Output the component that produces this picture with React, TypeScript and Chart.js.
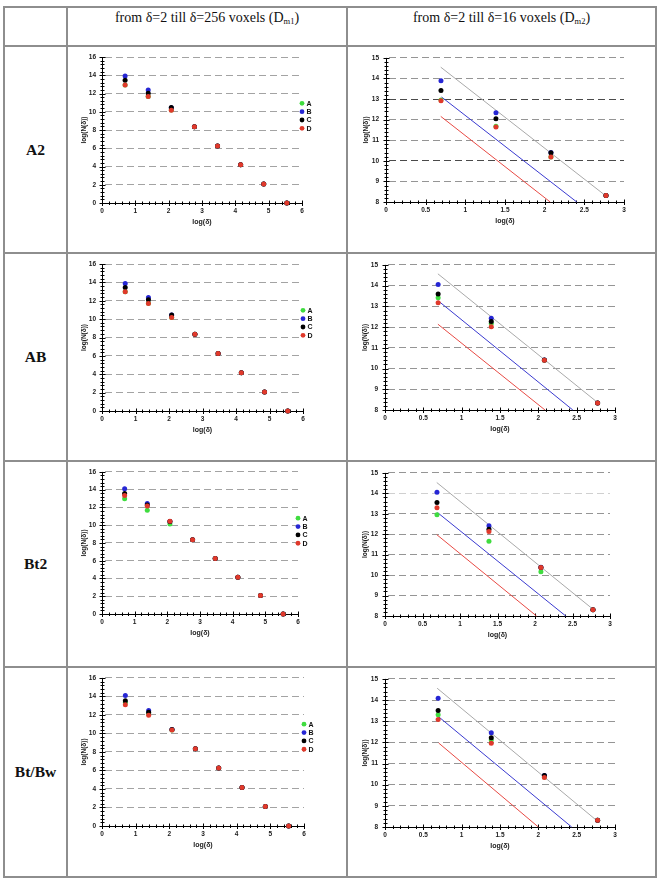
import React, { useEffect, useRef } from 'react';
import { Chart, registerables } from 'chart.js';

Chart.register(...registerables);

const SANS = '"Liberation Sans", Arial, Helvetica, sans-serif';
const SERIF = '"Liberation Serif", "Times New Roman", serif';

// ---------- data ----------
// log(δ) for δ = 2, 4, 8, ..., 256 voxels
const LOG_DELTA_M1 = [0.693, 1.386, 2.079, 2.773, 3.466, 4.159, 4.852, 5.545];
// log(δ) for δ = 2 ... 16 voxels
const LOG_DELTA_M2 = [0.693, 1.386, 2.079, 2.773];

const SERIES_NAMES = ['A', 'B', 'C', 'D'];
const SERIES_COLORS = ['#3fdc3f', '#2626d4', '#000000', '#e0392b'];
const FIT_COLORS = ['#a9a9a9', '#3a3ad0', '#e84a44'];

// Dm1 panels (δ = 2 .. 256)
const A2_M1_A = [12.93, 11.66, 10.18, 8.35, 6.26, 4.18, 2.09, 0.0];
const A2_M1_B = [13.92, 12.39, 10.45, 8.35, 6.26, 4.18, 2.09, 0.0];
const A2_M1_C = [13.45, 12.02, 10.47, 8.35, 6.26, 4.18, 2.09, 0.0];
const A2_M1_D = [12.93, 11.66, 10.17, 8.35, 6.26, 4.18, 2.09, 0.0];

const AB_M1_A = [12.98, 11.72, 10.18, 8.36, 6.25, 4.17, 2.07, 0.0];
const AB_M1_B = [13.89, 12.36, 10.44, 8.36, 6.25, 4.17, 2.07, 0.0];
const AB_M1_C = [13.45, 12.10, 10.44, 8.36, 6.25, 4.17, 2.07, 0.0];
const AB_M1_D = [12.98, 11.70, 10.18, 8.36, 6.25, 4.17, 2.07, 0.0];

const BT2_M1_A = [12.98, 11.67, 10.14, 8.35, 6.26, 4.14, 2.08, 0.0];
const BT2_M1_B = [14.10, 12.45, 10.42, 8.35, 6.26, 4.14, 2.08, 0.0];
const BT2_M1_C = [13.57, 12.27, 10.42, 8.35, 6.26, 4.14, 2.08, 0.0];
const BT2_M1_D = [13.35, 12.16, 10.44, 8.35, 6.26, 4.14, 2.08, 0.0];

const BTBW_M1_A = [13.35, 12.13, 10.36, 8.34, 6.26, 4.15, 2.11, 0.0];
const BTBW_M1_B = [14.10, 12.49, 10.42, 8.34, 6.26, 4.15, 2.11, 0.0];
const BTBW_M1_C = [13.53, 12.28, 10.42, 8.34, 6.26, 4.15, 2.11, 0.0];
const BTBW_M1_D = [13.10, 11.96, 10.38, 8.34, 6.26, 4.15, 2.11, 0.0];

// Dm2 panels (δ = 2 .. 16)
const A2_M2_A = [12.95, 11.68, 10.18, 8.31];
const A2_M2_B = [13.89, 12.34, 10.40, 8.31];
const A2_M2_C = [13.42, 12.05, 10.39, 8.31];
const A2_M2_D = [12.92, 11.64, 10.18, 8.31];

const AB_M2_A = [13.42, 12.17, 10.40, 8.34];
const AB_M2_B = [14.05, 12.43, 10.41, 8.34];
const AB_M2_C = [13.60, 12.27, 10.41, 8.34];
const AB_M2_D = [13.17, 12.02, 10.40, 8.34];

const BT2_M2_A = [12.95, 11.66, 10.16, 8.31];
const BT2_M2_B = [14.05, 12.42, 10.38, 8.31];
const BT2_M2_C = [13.55, 12.24, 10.37, 8.31];
const BT2_M2_D = [13.29, 12.13, 10.37, 8.31];

const BTBW_M2_A = [13.31, 12.11, 10.36, 8.32];
const BTBW_M2_B = [14.09, 12.45, 10.43, 8.32];
const BTBW_M2_C = [13.51, 12.22, 10.43, 8.32];
const BTBW_M2_D = [13.08, 11.96, 10.34, 8.32];

// reference lines (gray, blue, red): [[x1, y1], [x2, y2]]
const A2_FIT_GRAY = [[0.69, 14.55], [2.77, 8.30]];
const A2_FIT_BLUE = [[0.70, 13.10], [2.405, 8.0]];
const A2_FIT_RED = [[0.69, 12.16], [2.07, 8.0]];

const AB_FIT_GRAY = [[0.69, 14.57], [2.77, 8.37]];
const AB_FIT_BLUE = [[0.70, 13.25], [2.45, 8.0]];
const AB_FIT_RED = [[0.69, 12.14], [2.087, 8.0]];

const BT2_FIT_GRAY = [[0.69, 14.53], [2.78, 8.31]];
const BT2_FIT_BLUE = [[0.70, 13.06], [2.41, 8.0]];
const BT2_FIT_RED = [[0.69, 11.98], [2.02, 8.0]];

const BTBW_FIT_GRAY = [[0.68, 14.56], [2.77, 8.28]];
const BTBW_FIT_BLUE = [[0.70, 13.21], [2.435, 8.0]];
const BTBW_FIT_RED = [[0.70, 11.97], [2.0, 8.0]];

// axis ranges: [min, max, major step, minor step]
const M1_X_RANGE = [0, 6, 1, 0.2];
const M1_Y_RANGE = [0, 16, 2, 0.4];
const M2_X_RANGE = [0, 3, 0.5, 0.1];
const M2_Y_RANGE = [8, 15, 1, 0.2];

const ROW_LABELS = ['A2', 'AB', 'Bt2', 'Bt/Bw'];

// ---------- layout ----------
const ROW_BOXES = [
  [47, 205],
  [254, 206],
  [462, 204],
  [668, 208],
];
const LEFT_BOX_X = [68, 278];
const RIGHT_BOX_X = [348, 307];

type Panel = {
  kind: 'm1' | 'm2';
  series: number[][];
  lines?: number[][][];
  row: number;
  plot: number[]; // l, t, r, b
  darkGrid?: number[];
  lightGrid?: number[];
};

const PANELS: Panel[] = [
  { kind: 'm1', row: 0, series: [A2_M1_A, A2_M1_B, A2_M1_C, A2_M1_D], plot: [102, 57, 302, 203] },
  { kind: 'm2', row: 0, series: [A2_M2_A, A2_M2_B, A2_M2_C, A2_M2_D], lines: [A2_FIT_GRAY, A2_FIT_BLUE, A2_FIT_RED], plot: [386, 57, 624, 202], darkGrid: [13, 10] },
  { kind: 'm1', row: 1, series: [AB_M1_A, AB_M1_B, AB_M1_C, AB_M1_D], plot: [102, 264, 303, 411] },
  { kind: 'm2', row: 1, series: [AB_M2_A, AB_M2_B, AB_M2_C, AB_M2_D], lines: [AB_FIT_GRAY, AB_FIT_BLUE, AB_FIT_RED], plot: [385, 264, 615, 410] },
  { kind: 'm1', row: 2, series: [BT2_M1_A, BT2_M1_B, BT2_M1_C, BT2_M1_D], plot: [102, 471, 298, 614] },
  { kind: 'm2', row: 2, series: [BT2_M2_A, BT2_M2_B, BT2_M2_C, BT2_M2_D], lines: [BT2_FIT_GRAY, BT2_FIT_BLUE, BT2_FIT_RED], plot: [385, 471, 610, 616], lightGrid: [14] },
  { kind: 'm1', row: 3, series: [BTBW_M1_A, BTBW_M1_B, BTBW_M1_C, BTBW_M1_D], plot: [102, 677, 304, 826] },
  { kind: 'm2', row: 3, series: [BTBW_M2_A, BTBW_M2_B, BTBW_M2_C, BTBW_M2_D], lines: [BTBW_FIT_GRAY, BTBW_FIT_BLUE, BTBW_FIT_RED], plot: [385, 677, 615, 827] },
];

function panelBox(p: Panel) {
  const [by, bh] = ROW_BOXES[p.row];
  const [bx, bw] = p.kind === 'm1' ? LEFT_BOX_X : RIGHT_BOX_X;
  return [bx, by, bw, bh];
}

function buildConfig(p: Panel): any {
  const isM1 = p.kind === 'm1';
  const xr = isM1 ? M1_X_RANGE : M2_X_RANGE;
  const yr = isM1 ? M1_Y_RANGE : M2_Y_RANGE;
  const xs = isM1 ? LOG_DELTA_M1 : LOG_DELTA_M2;
  const W = isM1 ? 22 : 24;
  const H = 23;
  const [bx, by, bw, bh] = panelBox(p);
  const [pl, pt, pr, pb] = p.plot;
  const padding = { left: pl - bx - W, top: pt - by, right: bx + bw - pr, bottom: by + bh - pb - H };

  const datasets: any[] = [];
  (p.lines || []).forEach((ln, i) => {
    datasets.push({
      label: 'fit' + i,
      data: ln.map(([x, y]) => ({ x, y })),
      showLine: true,
      borderColor: FIT_COLORS[i],
      backgroundColor: FIT_COLORS[i],
      borderWidth: 1,
      pointRadius: 0,
      pointHoverRadius: 0,
      order: 10,
      clip: false,
    });
  });
  p.series.forEach((vals, i) => {
    datasets.push({
      label: SERIES_NAMES[i],
      data: vals.map((y, j) => ({ x: xs[j], y })),
      backgroundColor: SERIES_COLORS[i],
      borderColor: SERIES_COLORS[i],
      borderWidth: 0,
      pointRadius: 2.5,
      pointHoverRadius: 2.5,
      order: 4 - i,
      clip: false,
      inLegend: true,
    });
  });

  const tickFont = { family: SANS, size: 6.5, weight: 'bold' as const };

  const axesPlugin = {
    id: 'minorAxes',
    beforeDatasetsDraw(chart: any) {
      const { ctx, chartArea: a, scales } = chart;
      const sx = scales.x, sy = scales.y;
      ctx.save();
      ctx.strokeStyle = '#000';
      ctx.lineWidth = 1;
      const ay = Math.floor(a.bottom) + 0.5;
      const ax = Math.floor(a.left) + 0.5;
      ctx.beginPath();
      ctx.moveTo(a.left, ay);
      ctx.lineTo(a.right + 0.5, ay);
      ctx.moveTo(ax, a.top);
      ctx.lineTo(ax, a.bottom + 0.5);
      const nx = Math.round((xr[1] - xr[0]) / xr[3]);
      const majEvery = Math.round(xr[2] / xr[3]);
      for (let k = 0; k <= nx; k++) {
        const v = xr[0] + k * xr[3];
        const px = Math.round(sx.getPixelForValue(v)) + 0.5;
        const major = k % majEvery === 0;
        ctx.moveTo(px, ay - (major ? 3 : 2));
        ctx.lineTo(px, ay + (major ? 2.5 : 1.5));
      }
      const ny = Math.round((yr[1] - yr[0]) / yr[3]);
      const majEveryY = Math.round(yr[2] / yr[3]);
      for (let k = 0; k <= ny; k++) {
        const v = yr[0] + k * yr[3];
        const py = Math.round(sy.getPixelForValue(v)) + 0.5;
        const major = k % majEveryY === 0;
        ctx.moveTo(ax - (major ? 3 : 2), py);
        ctx.lineTo(ax + (major ? 3 : 2), py);
      }
      ctx.stroke();
      ctx.restore();
    },
  };

  const legendPlugin = {
    id: 'sideLegend',
    afterDatasetsDraw(chart: any) {
      if (!isM1) return;
      const { ctx, chartArea: a } = chart;
      const items = chart.data.datasets.filter((d: any) => d.inLegend);
      ctx.save();
      items.forEach((d: any, i: number) => {
        const cy = a.top + 46.3 + i * 8.35;
        const cx = a.right;
        ctx.fillStyle = d.backgroundColor;
        ctx.beginPath();
        ctx.arc(cx, cy, 2.4, 0, Math.PI * 2);
        ctx.fill();
        ctx.fillStyle = '#111';
        ctx.font = `bold 7px ${SANS}`;
        ctx.textAlign = 'left';
        ctx.textBaseline = 'middle';
        ctx.fillText(d.label, cx + 4.6, cy + 0.4);
      });
      ctx.restore();
    },
  };

  return {
    type: 'scatter',
    data: { datasets },
    plugins: [axesPlugin, legendPlugin],
    options: {
      responsive: false,
      maintainAspectRatio: false,
      animation: false,
      events: [],
      layout: { padding },
      plugins: { legend: { display: false }, tooltip: { enabled: false }, title: { display: false } },
      scales: {
        x: {
          type: 'linear',
          min: xr[0],
          max: xr[1],
          afterFit: (s: any) => { s.height = H; },
          ticks: {
            stepSize: xr[2],
            autoSkip: false,
            maxRotation: 0,
            font: tickFont,
            color: '#1a1a1a',
            padding: 4.5,
            callback: (v: any) => String(Number(v)),
          },
          grid: { display: false, drawTicks: false },
          border: { display: false },
          title: { display: true, text: 'log(δ)', font: { family: SANS, size: 7, weight: 'bold' }, color: '#1a1a1a', padding: 0 },
        },
        y: {
          type: 'linear',
          min: yr[0],
          max: yr[1],
          afterFit: (s: any) => { s.width = W; },
          ticks: {
            stepSize: yr[2],
            autoSkip: false,
            font: tickFont,
            color: '#1a1a1a',
            padding: isM1 ? 6 : 7,
            callback: (v: any) => String(Number(v)),
          },
          grid: {
            drawTicks: false,
            lineWidth: 1,
            color: (c: any) => {
              const v = c.tick ? c.tick.value : null;
              if (v === yr[0]) return 'rgba(0,0,0,0)';
              if (p.darkGrid && p.darkGrid.includes(v)) return '#4a4a4a';
              if (p.lightGrid && p.lightGrid.includes(v)) return '#d0d0d0';
              return isM1 ? '#a3a3a3' : '#959595';
            },
          },
          border: { display: false, dash: [7, 4], dashOffset: -3 },
          title: { display: true, text: 'log(N(δ))', font: { family: SANS, size: 6.5, weight: 'bold' }, color: '#1a1a1a', padding: 0 },
        },
      },
    },
  };
}

function ChartPanel({ p }: { p: Panel }) {
  const ref = useRef<HTMLCanvasElement>(null);
  useEffect(() => {
    if (!ref.current) return;
    const chart = new Chart(ref.current, buildConfig(p));
    return () => chart.destroy();
  }, []);
  const [bx, by, bw, bh] = panelBox(p);
  return (
    <canvas
      ref={ref}
      width={bw}
      height={bh}
      style={{ position: 'absolute', left: bx, top: by, width: bw, height: bh }}
    />
  );
}

const LINE_COLOR = '#8e8e8e';
const H_LINES = [6, 45, 252, 460, 666, 876];
const V_LINES = [3, 66, 346, 655];

export default function App() {
  const tableTop = H_LINES[0];
  const tableBottom = H_LINES[H_LINES.length - 1] + 2;
  const tableLeft = V_LINES[0];
  const tableRight = V_LINES[V_LINES.length - 1] + 2;
  const headStyle: any = { position: 'absolute', top: 9, textAlign: 'center', fontFamily: SERIF, fontSize: 14, lineHeight: '17px', color: '#111', whiteSpace: 'nowrap' };
  const subStyle: any = { fontSize: 8.5, verticalAlign: '-2px', lineHeight: 0 };
  return (
    <div style={{ position: 'absolute', left: 0, top: 0, width: 659, height: 878, background: '#fff', overflow: 'hidden' }}>
      {PANELS.map((p, i) => <ChartPanel key={i} p={p} />)}

      {H_LINES.map((y, i) => (
        <div key={'h' + i} style={{ position: 'absolute', left: tableLeft, top: y, width: tableRight - tableLeft, height: 2, background: LINE_COLOR }} />
      ))}
      {V_LINES.map((x, i) => (
        <div key={'v' + i} style={{ position: 'absolute', left: x, top: tableTop, width: 2, height: tableBottom - tableTop, background: LINE_COLOR }} />
      ))}

      <div style={{ ...headStyle, left: 68, width: 278 }}>
        from δ=2 till δ=256 voxels (D<sub style={subStyle}>m1</sub>)
      </div>
      <div style={{ ...headStyle, left: 348, width: 307 }}>
        from δ=2 till δ=16 voxels (D<sub style={subStyle}>m2</sub>)
      </div>

      {ROW_LABELS.map((lab, i) => {
        const top = H_LINES[i + 1] + 2;
        const bottom = H_LINES[i + 2];
        return (
          <div key={'r' + i} style={{ position: 'absolute', left: 5, top, width: 61, height: bottom - top, display: 'flex', alignItems: 'center', justifyContent: 'center', fontFamily: SERIF, fontWeight: 'bold', fontSize: 15.5, color: '#111' }}>
            {lab}
          </div>
        );
      })}
    </div>
  );
}
